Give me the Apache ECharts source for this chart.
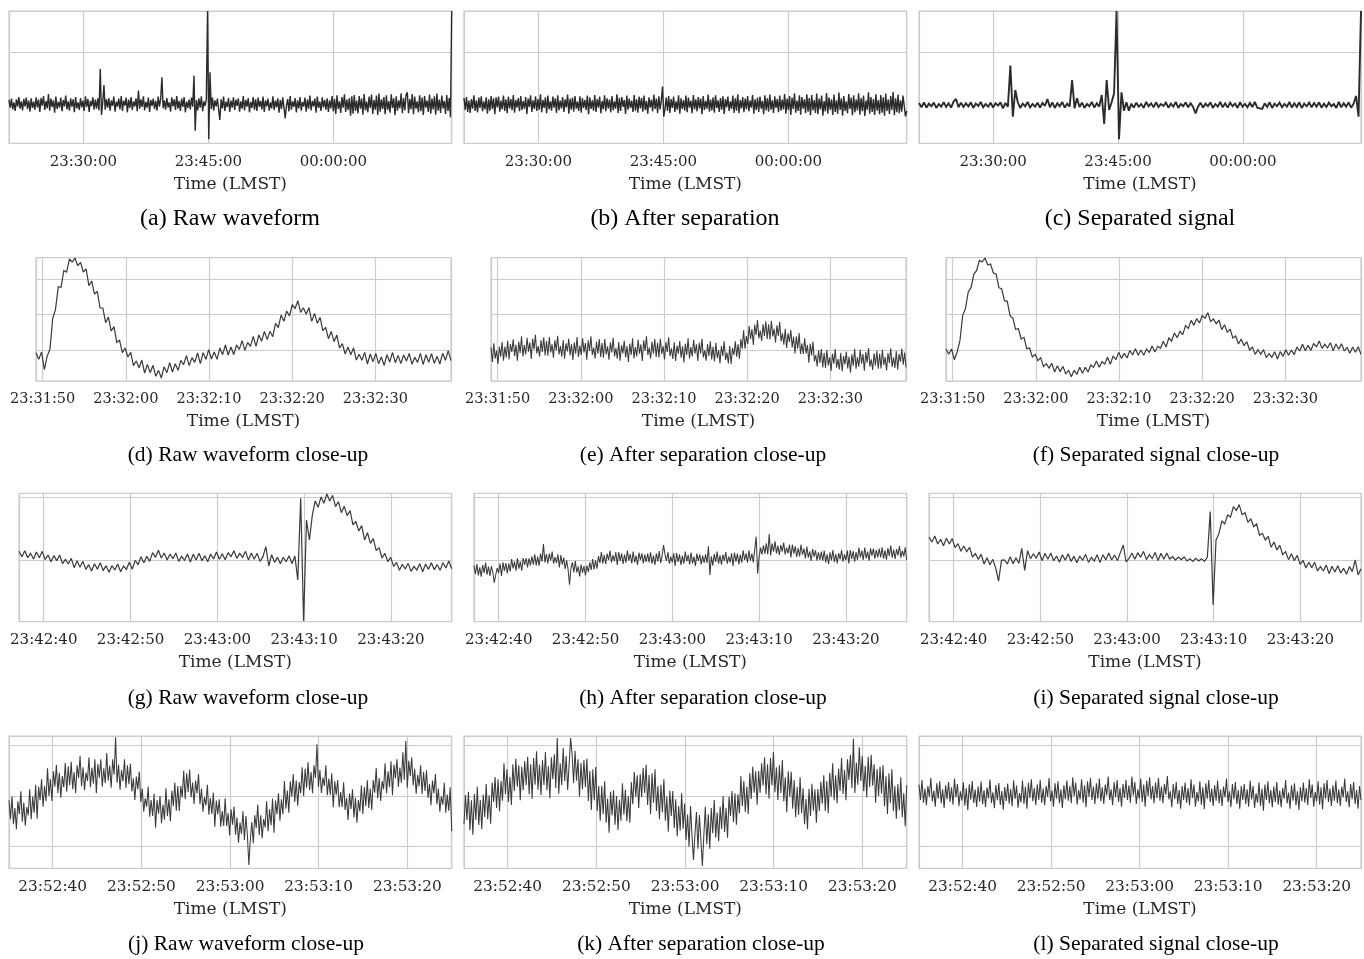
<!DOCTYPE html>
<html><head><meta charset="utf-8">
<script src="https://cdn.jsdelivr.net/npm/echarts@6/dist/echarts.min.js"></script>
<style>html,body{margin:0;padding:0;background:#fff}#c{width:1364px;height:959px}</style>
</head><body><div id="c"></div>
<script>
// ---------- captions ----------
const captions = ['(a) Raw waveform', '(b) After separation', '(c) Separated signal',
  '(d) Raw waveform close-up', '(e) After separation close-up', '(f) Separated signal close-up',
  '(g) Raw waveform close-up', '(h) After separation close-up', '(i) Separated signal close-up',
  '(j) Raw waveform close-up', '(k) After separation close-up', '(l) Separated signal close-up'];
const axisTitle = 'Time (LMST)';
// ---------- time spans per row (seconds after 00:00 LMST; > 86400 = after midnight) ----------
const rowSpan = [[84065, 87252], [84709.2, 84759.1], [85357.15, 85407.0], [85955.07, 86005.0]];
const rowTickStep = [900, 10, 10, 10];
// ---------- amplitude axis per row (arbitrary units): min, max, grid step ----------
const rowAmp = [[-273, 124, 273], [-93, 277, 106], [-185, 200, 188], [-217, 180, 151]];

// ---------- waveforms (estimated from the figure) ----------
const waveA = [-143,-166,-139,-171,-150,-176,-141,-163,-134,-169,-147,-174,-140,-162,-136,-170,-145,-178,-138,-167,
-148,-172,-135,-165,-142,-179,-137,-160,-131,-173,-146,-168,-125,-175,-139,-164,-144,-181,-133,-170,
-149,-166,-136,-177,-143,-162,-130,-171,-147,-175,-138,-163,-141,-180,-134,-168,-150,-173,-137,-165,
-145,-176,-132,-164,-140,-179,-146,-161,-135,-172,-142,-169,-138,-174,-50,-188,-150,-98,-172,-140,
-166,-137,-175,-144,-161,-133,-178,-148,-163,-139,-171,-131,-176,-145,-160,-136,-180,-142,-167,-134,
-173,-147,-162,-138,-177,-115,-169,-141,-164,-132,-174,-149,-166,-136,-179,-143,-161,-139,-170,-146,
-175,-133,-163,-140,-75,-168,-144,-172,-137,-165,-150,-178,-135,-162,-141,-173,-131,-169,-146,-176,
-139,-164,-134,-180,-148,-167,-142,-171,-136,-163,-70,-235,-143,-174,-138,-166,-132,-177,-147,-161,
-140,124,-261,-60,-170,-136,-175,-144,-162,-139,-172,-203,-141,-168,-133,-176,-148,-164,-137,-179,
-145,-166,-135,-173,-142,-161,-138,-178,-147,-169,-131,-174,-143,-163,-137,-180,-149,-167,-134,-172,
-141,-176,-136,-164,-146,-171,-133,-179,-144,-162,-139,-175,-150,-168,-132,-173,-145,-165,-138,-181,
-143,-170,-135,-166,-198,-160,-140,-177,-131,-172,-147,-164,-137,-180,-144,-168,-134,-175,-149,-163,
-136,-178,-142,-169,-130,-174,-146,-162,-139,-181,-133,-167,-148,-176,-135,-165,-143,-172,-138,-179,
-144,-168,-131,-177,-140,-185,-129,-170,-147,-182,-134,-166,-126,-179,-142,-173,-137,-190,-132,-184,
-128,-176,-145,-183,-131,-169,-139,-187,-125,-174,-148,-180,-133,-167,-127,-185,-143,-172,-130,-188,
-124,-178,-141,-170,-134,-186,-129,-173,-146,-181,-126,-167,-138,-189,-132,-175,-144,-168,-123,-183,
-137,-174,-128,-120,-183,-140,-171,-125,-186,-133,-169,-147,-180,-129,-177,-136,-188,-131,-166,-145,
-179,-127,-184,-139,-171,-132,-187,-124,-175,-142,-182,-130,-168,-146,-185,-128,-176,-137,-195,124];
const waveB = [-137,-173,-134,-179,-145,-182,-140,-169,-129,-176,-144,-180,-136,-167,-132,-177,-147,-171,-135,-184,
-141,-175,-131,-170,-138,-186,-135,-165,-133,-178,-145,-171,-130,-176,-141,-183,-133,-168,-140,-174,
-128,-181,-143,-166,-137,-177,-131,-173,-146,-169,-134,-185,-139,-164,-129,-179,-144,-170,-132,-176,
-140,-172,-126,-180,-143,-167,-135,-183,-130,-171,-147,-175,-133,-166,-138,-182,-129,-174,-145,-168,
-134,-179,-141,-165,-127,-184,-139,-172,-136,-178,-131,-169,-148,-176,-132,-181,-137,-167,-143,-173,
-130,-186,-135,-170,-144,-175,-128,-179,-140,-166,-133,-183,-146,-171,-129,-177,-138,-168,-142,-180,
-131,-174,-147,-169,-126,-182,-137,-176,-134,-164,-143,-185,-130,-172,-139,-167,-145,-179,-128,-175,
-141,-181,-133,-168,-137,-178,-130,-173,-146,-184,-135,-166,-142,-177,-127,-170,-139,-183,-132,-171,
-144,-103,-193,-169,-136,-176,-131,-182,-140,-167,-133,-179,-147,-172,-129,-184,-138,-170,-143,-175,
-130,-180,-136,-166,-145,-183,-128,-171,-141,-177,-134,-168,-139,-186,-131,-173,-146,-169,-127,-178,
-142,-174,-135,-181,-129,-167,-144,-179,-137,-172,-132,-185,-140,-165,-133,-176,-147,-170,-130,-182,
-138,-175,-126,-183,-143,-168,-134,-180,-139,-171,-131,-177,-145,-166,-128,-184,-141,-173,-136,-179,
-133,-169,-146,-186,-129,-174,-138,-178,-127,-172,-144,-182,-132,-167,-140,-180,-130,-175,-142,-171,
-125,-184,-139,-173,-131,-188,-136,-170,-123,-181,-145,-176,-129,-187,-134,-169,-141,-183,-126,-178,
-137,-189,-128,-174,-143,-182,-124,-186,-139,-171,-130,-190,-146,-177,-122,-184,-135,-172,-141,-188,
-127,-179,-144,-185,-121,-173,-138,-190,-131,-176,-147,-183,-125,-170,-136,-189,-129,-180,-142,-174,
-123,-187,-137,-177,-130,-191,-145,-172,-120,-184,-134,-179,-140,-188,-126,-175,-143,-186,-128,-181,
-135,-190,-124,-176,-142,-185,-131,-173,-119,-189,-138,-180,-127,-183,-144,-178,-130,-125,-192,-176];
const waveC = [-152,-165,-150,-166,-154,-162,-151,-167,-155,-163,-150,-164,-153,-166,-148,-140,-165,-151,-164,-153,
-162,-150,-167,-154,-161,-149,-165,-155,-163,-151,-166,-153,-160,-150,-168,-152,-163,-40,-193,-113,
-150,-167,-154,-162,-149,-165,-155,-163,-151,-166,-152,-161,-140,-165,-150,-167,-153,-162,-149,-166,
-154,-163,-83,-168,-138,-164,-151,-167,-155,-162,-149,-166,-153,-163,-128,-215,-83,-173,-150,-123,
124,-261,-120,-175,-150,-175,-154,-166,-151,-163,-155,-167,-149,-162,-153,-165,-150,-164,-155,-161,
-151,-166,-154,-163,-149,-167,-155,-162,-150,-165,-153,-164,-183,-163,-151,-166,-154,-162,-150,-167,
-155,-163,-149,-165,-153,-166,-151,-162,-154,-167,-150,-163,-155,-165,-152,-164,-149,-166,-168,-170,
-153,-164,-150,-167,-154,-162,-151,-165,-155,-163,-149,-166,-153,-164,-150,-167,-154,-162,-151,-165,
-152,-163,-150,-166,-154,-164,-151,-162,-155,-167,-149,-165,-153,-163,-150,-166,-154,-131,-193,124];
const waveD = [-8,-28,-6,-59,-19,2,94,122,190,188,239,234,273,264,276,253,263,234,243,193,
207,168,176,126,126,82,99,57,70,23,29,-8,6,-21,-7,-47,-33,-53,-30,-69,
-43,-68,-46,-79,-61,-84,-50,-68,-38,-66,-41,-61,-31,-44,-17,-47,-23,-37,-9,-41,
-8,-28,1,-27,-6,-28,6,-14,15,-15,9,-14,15,2,28,-1,23,11,41,11,
45,26,56,31,56,40,80,67,105,86,117,102,136,124,148,113,127,107,127,86,
110,80,98,58,68,34,56,25,45,6,19,-12,9,-14,6,-30,-13,-31,-7,-42,
-12,-35,-10,-41,-21,-46,-14,-36,-7,-38,-16,-41,-15,-33,-10,-43,-22,-37,-10,-44,
-14,-37,-11,-40,-19,-42,-10,-31,-2,-32];
const waveE = [8,-36,20,-26,-2,-42,10,-20,24,-32,10,-22,28,-28,18,-6,32,-18,16,-32,
25,-9,41,-19,15,-13,37,-5,23,-27,34,2,46,-10,12,-20,30,-6,38,-16,
27,-17,39,-7,17,-23,29,-1,43,-13,12,-20,30,-26,20,-4,34,-16,18,-30,
23,-11,39,-21,13,-15,35,-7,21,-29,29,-3,41,-15,7,-25,25,-11,33,-21,
21,-23,33,-13,11,-29,23,-7,37,-19,6,-26,24,-32,14,-10,28,-22,12,-36,
19,-15,35,-25,9,-19,31,-11,17,-33,29,-3,41,-15,7,-25,25,-11,33,-21,
22,-22,34,-12,12,-28,24,-6,38,-18,5,-27,23,-33,13,-11,27,-23,11,-37,
19,-15,35,-25,9,-19,31,-11,17,-33,22,-10,34,-22,0,-32,18,-18,26,-28,
10,-34,22,-24,0,-40,12,-18,26,-30,-8,-40,12,-42,6,-15,26,-20,18,-26,
33,4,59,4,42,18,72,33,63,15,76,45,90,35,58,27,77,42,86,33,
77,32,88,41,64,23,74,42,84,26,50,16,64,6,50,24,60,8,40,-10,
41,4,51,-12,19,-12,35,-10,15,-38,19,-16,25,-34,-15,-49,-1,-39,3,-52,
-9,-54,1,-46,-22,-63,-11,-41,3,-53,-27,-58,-8,-64,-18,-43,-5,-55,-20,-68,
-13,-47,4,-56,-22,-50,1,-41,-12,-62,-6,-38,6,-50,-28,-60,-10,-46,-2,-56,
-11,-55,1,-45,-21,-61,-9,-39,5,-51,-22,-54,-3,-59,-12,-35,4,-44,-8,-52];
const waveF = [3,-13,3,-29,-6,28,104,125,175,187,228,239,269,264,276,255,258,231,228,187,
183,148,146,103,96,62,64,33,38,4,6,-21,-13,-32,-23,-50,-41,-54,-40,-66,
-47,-65,-49,-72,-61,-80,-61,-73,-52,-70,-52,-66,-45,-52,-33,-52,-35,-42,-22,-43,
-18,-29,-7,-25,-10,-24,-1,-15,4,-16,0,-16,3,-7,12,-6,11,5,26,9,
36,27,51,37,56,46,73,65,89,74,94,81,103,96,112,86,93,79,90,61,
76,53,63,36,42,18,33,13,25,0,9,-13,1,-13,1,-23,-11,-22,-5,-27,
-5,-19,1,-16,0,-14,9,-3,17,-2,14,-1,19,10,27,5,17,6,22,-2,
18,2,19,-3,8,-10,9,-7,10,-13];
const waveG = [26,10,28,7,20,3,24,7,26,1,15,-5,13,-2,15,-11,2,-12,5,-23,
-2,-22,-4,-28,-14,-33,-11,-28,-8,-32,-17,-37,-17,-30,-12,-35,-18,-28,-7,-28,
-1,-14,10,-8,11,-4,22,8,29,6,21,0,18,4,21,-4,11,-1,18,-6,
17,0,20,-2,13,-5,18,3,24,2,19,1,22,10,28,5,20,8,26,0,
21,2,20,-4,10,40,-18,16,-7,8,-11,8,-5,13,-11,12,-60,185,-183,120,
60,134,177,158,189,170,198,177,194,160,175,142,161,133,148,105,116,87,103,60,
82,50,64,28,37,6,20,-5,8,-19,-7,-31,-13,-27,-10,-34,-19,-30,-11,-35,
-12,-28,-8,-29,-14,-31,-8,-24,-3,-26];
const waveH = [-16,-42,-12,-46,-22,-50,-15,-39,-8,-44,-20,-48,-18,-37,-68,-45,-24,-39,-11,-48,
-7,-33,-9,-40,-11,-34,3,-25,-5,-32,5,-26,-5,-32,6,-15,6,-22,5,-16,
11,-14,17,-16,10,-17,19,-4,48,-7,18,-10,19,-1,25,-11,9,-9,17,-22,
15,-14,7,-27,-1,-27,-74,-24,-7,-37,-3,-37,-19,-49,-14,-38,-18,-46,-17,-36,
-7,-30,3,-28,-1,-26,12,-9,24,-10,15,-12,19,0,28,-7,14,-3,24,-15,
24,-3,20,-12,16,-8,28,-1,18,-10,25,-7,13,-15,22,0,20,-10,16,-6,
19,-7,23,-11,13,-15,20,-4,27,-9,14,45,16,-3,24,-11,10,-7,20,-18,
21,-6,17,-15,13,-11,25,-4,15,-13,22,-10,10,-18,19,-3,17,-13,13,-9,
17,-9,41,-45,11,-17,18,-6,25,-11,14,-14,16,-3,24,-11,10,-7,20,-18,
22,-5,19,-13,16,-8,29,0,20,-8,29,-2,19,-7,32,70,-41,8,37,17,
44,19,50,17,78,14,49,25,56,20,43,15,45,25,52,17,37,20,46,8,
46,19,41,9,36,11,46,16,34,5,40,7,26,-3,33,10,29,-2,23,0,
25,-2,28,-7,17,-12,23,-1,30,-6,18,-10,21,2,30,-5,17,0,28,-10,
30,3,27,-5,24,0,37,8,28,0,37,5,25,-2,35,13,34,4,30,8,
34,8,38,4,29,1,36,12,43,7,31,3,33,14,42,7,28,11,38,0];
const waveI = [69,54,72,48,62,43,65,48,64,37,49,26,42,25,38,9,19,2,17,-12,
7,-14,2,-24,-63,-1,0,-12,10,-11,7,-10,35,-31,28,4,18,6,24,-2,
20,2,21,-2,12,-7,16,-1,19,-4,11,-8,12,-1,17,-7,8,-3,16,-8,
16,0,21,0,15,-2,22,45,-6,5,21,2,22,8,26,1,16,4,23,-2,
20,2,21,3,10,0,9,1,9,-3,4,-4,5,-3,4,-4,8,145,-135,60,
79,117,108,135,129,160,149,166,136,142,113,123,100,108,74,80,60,71,38,54,
30,44,16,25,1,19,-2,14,-13,-1,-24,-7,-23,-7,-33,-20,-33,-15,-41,-19,
-36,-17,-39,-25,-43,-20,-35,0,-45,-26];
const waveJ = [-13,-70,-2,-85,-36,-100,-16,-54,14,-77,-20,-89,-33,-58,20,-70,-2,-50,34,-68,
28,-13,50,-32,30,-15,83,0,51,-15,74,28,93,9,70,-5,60,26,99,13,
89,32,103,20,72,8,92,54,120,29,86,17,70,45,116,26,85,37,110,8,
96,55,110,28,83,38,129,46,91,25,110,64,176,40,94,19,78,44,110,24,
92,35,97,14,52,-12,58,20,73,-18,22,-47,-7,-32,28,-62,-12,-60,7,-95,
-12,-53,0,-82,-26,-71,23,-60,-10,-76,16,-30,40,-44,30,-45,30,-4,76,-10,
68,11,79,-4,40,-24,46,8,66,-25,22,-47,-3,-28,34,-56,-6,-54,10,-92,
-14,-55,-10,-92,-45,-90,-7,-90,-52,-118,-40,-86,-32,-116,-65,-140,-80,-114,-46,-132,
-60,-117,-207,-130,-78,-142,-58,-96,-26,-117,-58,-127,-69,-94,-16,-106,-40,-88,-8,-110,
-14,-55,8,-74,-10,-55,45,-38,16,-50,44,-2,66,-18,46,-29,42,8,86,0,
82,25,101,18,72,8,92,54,155,27,78,9,55,30,92,2,52,4,68,-34,
44,3,48,-34,12,-33,41,-42,-6,-72,7,-39,20,-64,-5,-80,-12,-46,32,-54,
27,-30,47,-36,22,-42,48,10,84,-7,54,-15,45,20,98,8,74,26,104,2,
94,53,110,28,85,40,131,48,165,25,106,60,116,32,82,7,63,29,92,6,
72,15,77,-6,36,-28,46,8,66,-25,22,-47,-1,-26,40,-50,4,-44,26,-106];
const waveK = [-85,3,-72,13,-103,-13,-116,6,-72,28,-87,-12,-100,4,-63,36,-70,2,-83,40,
-18,57,-36,50,-46,45,-14,98,5,80,-18,58,-27,95,15,112,28,92,-13,88,
17,105,33,118,5,95,-8,114,34,134,19,94,3,107,33,132,17,89,-7,116,
50,125,24,174,7,98,32,144,45,120,18,94,174,126,39,136,46,110,-2,99,
20,108,27,112,-15,75,-42,80,-13,87,-45,30,-74,30,-55,44,-80,-8,-110,13,
-58,17,-86,0,-102,-11,-74,38,-56,19,-76,0,-80,42,-25,72,-2,62,-36,65,
-4,84,9,94,-27,63,-54,68,-20,80,-45,30,-70,34,-49,50,-74,-2,-107,16,
-60,15,-96,-10,-121,-30,-104,8,-98,-23,-132,-56,-152,-30,-120,-192,-112,-48,-158,-57,
-132,-210,-117,-32,-145,-55,-158,-36,-112,-12,-125,-50,-136,-32,-99,0,-108,-36,-125,-2,
-60,15,-78,8,-86,5,-52,60,-30,45,-48,28,-54,68,-9,88,10,74,-26,75,
10,98,31,116,5,95,-8,114,32,132,11,86,-12,92,9,108,-16,56,-49,74,
-2,73,-38,48,-64,27,-56,56,-52,23,-85,-9,-100,22,-60,37,-44,20,-80,21,
-45,43,-23,62,-45,45,-52,70,-2,98,-13,62,-22,82,15,114,6,78,-13,110,
48,123,24,172,9,100,34,146,45,120,14,90,-4,118,27,124,31,95,-20,81,
0,88,7,92,-31,59,-54,68,-20,80,-45,30,-68,36,-43,56,-64,8,-91,32];
const waveL = [34,-12,48,-20,22,-28,30,-2,54,-16,16,-32,38,-8,44,-22,20,-36,32,-10,
42,-18,26,-26,52,-4,36,-30,14,-14,41,-29,23,-43,35,-11,45,-21,19,-33,
29,-17,43,-25,17,-33,25,-7,49,-21,11,-37,33,-13,39,-27,15,-41,27,-15,
37,-23,21,-31,47,-9,31,-35,9,-19,46,-24,28,-38,40,-6,50,-16,24,-28,
34,-12,48,-20,22,-28,30,-2,54,-16,16,-32,38,-8,44,-22,20,-36,32,-10,
46,-14,30,-22,56,0,40,-26,18,-10,50,-20,32,-34,44,-2,54,-12,28,-24,
38,-8,52,-16,26,-24,34,2,58,-12,20,-28,42,-4,48,-18,24,-32,36,-6,
48,-12,32,-20,58,2,42,-24,20,-8,52,-18,34,-32,46,0,56,-10,30,-22,
40,-6,54,-14,28,-22,36,4,60,-10,14,-34,36,-10,42,-24,18,-38,30,-12,
40,-20,24,-28,50,-6,34,-32,12,-16,44,-26,26,-40,38,-8,48,-18,22,-30,
32,-14,46,-22,20,-30,28,-4,52,-18,14,-34,36,-10,42,-24,18,-38,30,-12,
36,-24,20,-32,46,-10,30,-36,8,-20,40,-30,22,-44,34,-12,44,-22,18,-34,
28,-18,42,-26,16,-34,24,-8,48,-22,10,-38,32,-14,38,-28,14,-42,26,-16,
40,-20,24,-28,50,-6,34,-32,12,-16,44,-26,26,-40,38,-8,48,-18,22,-30,
32,-14,46,-22,20,-30,28,-4,52,-18,14,-34,36,-10,42,-24,18,-38,30,-12];
const waves = [waveA, waveB, waveC, waveD, waveE, waveF, waveG, waveH, waveI, waveJ, waveK, waveL];

// ---------- layout / style ----------
const rowTop = [11, 257.7, 493.3, 736];
const rowHeight = [132.3, 123.3, 128.4, 132.3];
const rowLeft = [9, 36, 19, 9];
const rowWidth = [442.7, 415, 432.7, 442.7];
const colOffset = [0, 455, 910];
const captionY = [218.5, 455.5, 698, 944.5];
const captionX = [[230, 685, 1140], [248, 703, 1156], [248, 703, 1156], [246, 701, 1156]];
const captionSize = [24, 21.5, 21.5, 21.5];
const tickFont = [15, 14.5, 15, 15.3];
const panelLineWidth = [1.4, 1.4, 1.9, 1.2, 1.05, 1.2, 1.2, 1.05, 1.2, 1.05, 1.05, 1.05];
const rowLineColor = ['#2b2b2b', '#3a3a3a', '#3a3a3a', '#3a3a3a'];

function hms(v) {
  let s = Math.round(v) % 86400;
  const p = n => String(n).padStart(2, '0');
  return p(Math.floor(s / 3600)) + ':' + p(Math.floor((s % 3600) / 60)) + ':' + p(s % 60);
}

const grids = [], xAxes = [], yAxes = [], series = [], graphics = [];
for (let p = 0; p < 12; p++) {
  const r = Math.floor(p / 3), c = p % 3;
  const step = rowTickStep[r];
  grids.push({ left: rowLeft[r] + colOffset[c], top: rowTop[r], width: rowWidth[r], height: rowHeight[r],
    show: true, borderColor: '#cccccc', borderWidth: 1.2, backgroundColor: '#ffffff' });
  xAxes.push({ gridIndex: p, type: 'value', min: rowSpan[r][0], max: rowSpan[r][1],
    minInterval: step, maxInterval: step, splitNumber: 5,
    axisLine: { show: false }, axisTick: { show: false },
    splitLine: { show: true, lineStyle: { color: '#cccccc', width: 1.2 } },
    axisLabel: { margin: 11, color: '#262626', fontFamily: 'DejaVu Serif', fontSize: tickFont[r],
      formatter: v => (Math.abs(v / step - Math.round(v / step)) < 1e-6 ? hms(v) : '') },
    name: axisTitle, nameLocation: 'middle', nameGap: 32.5,
    nameTextStyle: { fontFamily: 'DejaVu Serif', fontSize: 17, color: '#262626' } });
  yAxes.push({ gridIndex: p, type: 'value', min: rowAmp[r][0], max: rowAmp[r][1],
    minInterval: rowAmp[r][2], maxInterval: rowAmp[r][2], splitNumber: 3,
    axisLine: { show: false }, axisTick: { show: false }, axisLabel: { show: false },
    splitLine: { show: true, lineStyle: { color: '#cccccc', width: 1.2 } } });
  const w = waves[p], t0 = rowSpan[r][0], t1 = rowSpan[r][1];
  series.push({ type: 'line', xAxisIndex: p, yAxisIndex: p, showSymbol: false, symbol: 'none',
    animation: false, silent: true, clip: true,
    lineStyle: { color: rowLineColor[r], width: panelLineWidth[p], join: 'miter', miterLimit: 2 },
    data: w.map((v, i) => [t0 + i * (t1 - t0) / (w.length - 1), v]) });
  graphics.push({ type: 'text', x: captionX[r][c], y: captionY[r],
    style: { text: captions[p], fill: '#000', font: captionSize[r] + 'px "Liberation Serif"', textAlign: 'center', textVerticalAlign: 'middle' } });
}

const chart = echarts.init(document.getElementById('c'), null, { renderer: 'canvas' });
chart.setOption({ animation: false, backgroundColor: '#ffffff', grid: grids, xAxis: xAxes, yAxis: yAxes, series, graphic: graphics });
</script></body></html>
